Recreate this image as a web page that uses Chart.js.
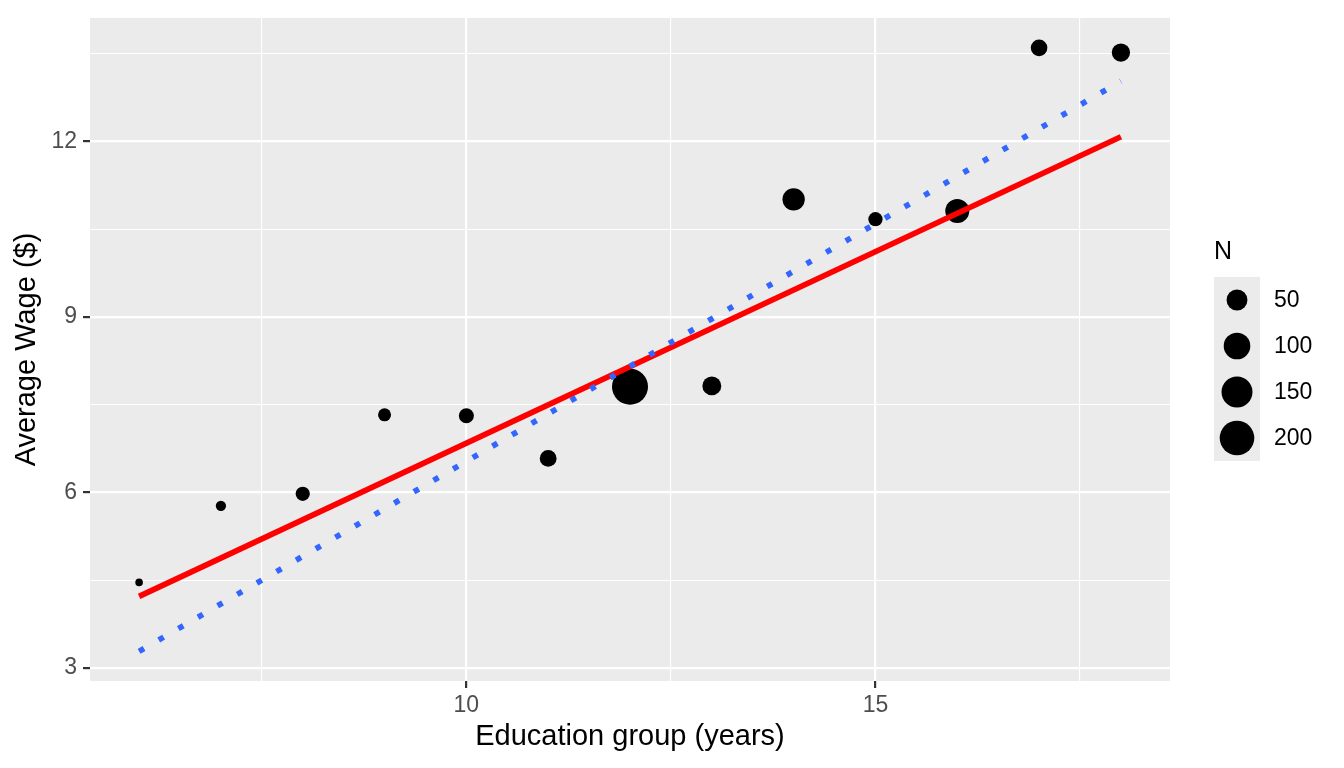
<!DOCTYPE html>
<html><head><meta charset="utf-8">
<script src="https://cdn.jsdelivr.net/npm/chart.js@4.4.1/dist/chart.umd.min.js"></script>
<style>html,body{margin:0;padding:0;background:#fff}#wrap{width:1344px;height:768px;position:relative}</style>
</head><body><div id="wrap"><canvas id="c" width="1344" height="768"></canvas></div>
<script>
// ---- data ----
const educ = [6, 7, 8, 9, 10, 11, 12, 13, 14, 15, 16, 17, 18];
const wage = [4.46, 5.77, 5.975, 7.325, 7.31, 6.58, 7.806, 7.82, 11.01, 10.67, 10.81, 13.60, 13.52];
const groupN = [2, 4, 14, 10, 17, 25, 221, 37, 61, 14, 75, 24, 33];
const weightedFitX = [6, 18];
const weightedFitY = [4.22, 12.08];
const plainFitX = [6, 18];
const plainFitY = [3.28, 13.03];
const xMajor = [10, 15];
const xMinor = [7.5, 12.5, 17.5];
const yMajor = [3, 6, 9, 12];
const yMinor = [4.5, 7.5, 10.5, 13.5];
const legendN = [50, 100, 150, 200];

// ---- size scale (ggplot area scale) ----
const nMin = Math.min(...groupN), nMax = Math.max(...groupN);
function sizeOf(n) {
  const f = Math.max(0, (n - nMin) / (nMax - nMin));
  const s = 1 + 5 * Math.sqrt(f);
  return 2.845 * s + 0.94;
}

const FONT = "'Liberation Sans', Arial, sans-serif";
const pts = educ.map((x, i) => ({x: x, y: wage[i]}));
const red = weightedFitX.map((x, i) => ({x: x, y: weightedFitY[i]}));
const blue = plainFitX.map((x, i) => ({x: x, y: plainFitY[i]}));

const bgPlugin = {
  id: 'panelBg',
  beforeDraw(chart) {
    const {ctx, chartArea: a} = chart;
    ctx.save();
    ctx.fillStyle = '#EBEBEB';
    ctx.fillRect(a.left, a.top, a.right - a.left, a.bottom - a.top);
    ctx.restore();
  }
};

const legendPlugin = {
  id: 'sizeLegend',
  afterDraw(chart) {
    const ctx = chart.ctx;
    ctx.save();
    const left = 1214, keyW = 46, keyH = 46, top = 277;
    ctx.fillStyle = '#000';
    ctx.font = '25px ' + FONT;
    ctx.textBaseline = 'middle';
    ctx.textAlign = 'left';
    ctx.fillText('N', left, 252);
    ctx.fillStyle = '#EBEBEB';
    ctx.fillRect(left, top, keyW, keyH * legendN.length);
    legendN.forEach((n, i) => {
      const cy = top + keyH * i + keyH / 2;
      ctx.fillStyle = '#000';
      ctx.beginPath();
      ctx.arc(left + keyW / 2, cy, sizeOf(n), 0, Math.PI * 2);
      ctx.fill();
      ctx.font = '23px ' + FONT;
      ctx.fillText(String(n), left + 60, cy + 1);
    });
    ctx.restore();
  }
};

function gridOpts(major) {
  return {
    color: '#FFFFFF',
    lineWidth: c => (c.tick && major.includes(c.tick.value)) ? 2.2 : 1.1,
    tickColor: c => (c.tick && major.includes(c.tick.value)) ? '#333333' : 'rgba(0,0,0,0)',
    tickWidth: 2.2,
    tickLength: 7,
    drawTicks: true,
    drawOnChartArea: true
  };
}
const zeroPad = () => ({left: 0, top: 0, right: 0, bottom: 0});

const chart = new Chart(document.getElementById('c'), {
  type: 'scatter',
  data: {
    datasets: [
      {
        type: 'line', label: 'unweighted', data: blue, order: 0,
        borderColor: '#3366FF', borderWidth: 5.7, borderDash: [5.7, 17],
        borderCapStyle: 'butt', pointRadius: 0, fill: false, tension: 0
      },
      {
        type: 'line', label: 'weighted', data: red, order: 1,
        borderColor: '#FF0000', borderWidth: 5.7, pointRadius: 0, fill: false, tension: 0
      },
      {
        type: 'scatter', label: 'groups', data: pts, order: 2,
        backgroundColor: '#000000', borderWidth: 0,
        pointRadius: c => sizeOf(groupN[c.dataIndex]),
        pointHoverRadius: c => sizeOf(groupN[c.dataIndex])
      }
    ]
  },
  options: {
    responsive: false,
    animation: false,
    devicePixelRatio: 1,
    layout: {padding: {top: 14, right: 174, left: 0, bottom: 0}},
    plugins: {legend: {display: false}, tooltip: {enabled: false}},
    scales: {
      x: {
        type: 'linear', min: 5.4, max: 18.6,
        afterBuildTicks: s => { s.ticks = [...xMinor, ...xMajor].sort((a, b) => a - b).map(v => ({value: v})); },
        afterFit: s => { s.height = 87; s.paddingLeft = 0; s.paddingRight = 0; s.getPadding = zeroPad; },
        ticks: {
          callback: v => xMajor.includes(v) ? String(v) : '',
          font: {family: FONT, size: 23}, color: '#4D4D4D', padding: 4,
          autoSkip: false, maxRotation: 0
        },
        grid: gridOpts(xMajor),
        border: {display: false},
        title: {display: true, text: 'Education group (years)', color: '#000',
          font: {family: FONT, size: 29}, padding: {top: 0, bottom: 14}}
      },
      y: {
        type: 'linear', min: 2.774, max: 14.11,
        afterBuildTicks: s => { s.ticks = [...yMinor, ...yMajor].sort((a, b) => a - b).map(v => ({value: v})); },
        afterFit: s => { s.width = 90; s.paddingTop = 0; s.paddingBottom = 0; s.getPadding = zeroPad; },
        ticks: {
          callback: v => yMajor.includes(v) ? String(v) : '',
          font: {family: FONT, size: 23}, color: '#4D4D4D', padding: 6,
          autoSkip: false
        },
        grid: gridOpts(yMajor),
        border: {display: false},
        title: {display: true, text: 'Average Wage ($)', color: '#000',
          font: {family: FONT, size: 29}, padding: {top: 10, bottom: 0}}
      }
    }
  },
  plugins: [bgPlugin, legendPlugin]
});
</script></body></html>
